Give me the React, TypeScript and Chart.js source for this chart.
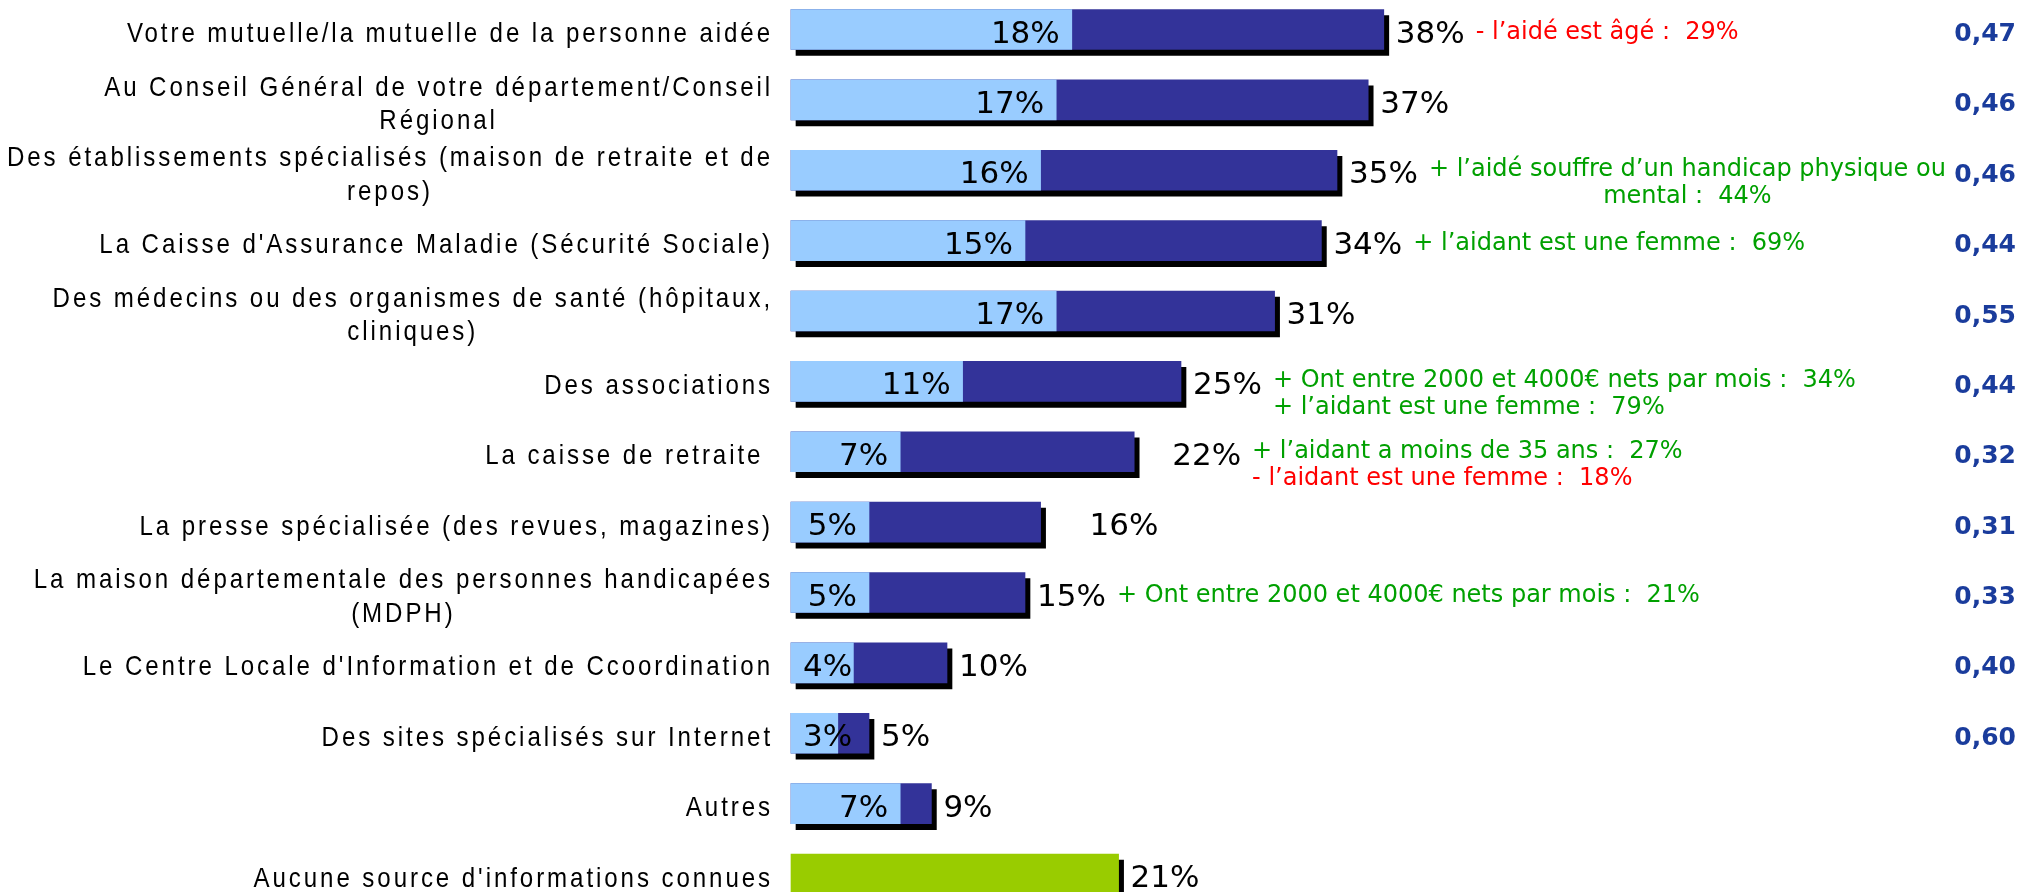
import { useEffect, useRef } from 'react';
import { Chart, registerables } from 'chart.js';

Chart.register(...registerables);

// ---------- data ----------
const categories: (string | string[])[] = [
  'Votre mutuelle/la mutuelle de la personne aidée',
  ['Au Conseil Général de votre département/Conseil', 'Régional'],
  ['Des établissements spécialisés (maison de retraite et de', 'repos)'],
  "La Caisse d'Assurance Maladie (Sécurité Sociale)",
  ['Des médecins ou des organismes de santé (hôpitaux,', 'cliniques)'],
  'Des associations',
  'La caisse de retraite ',
  'La presse spécialisée (des revues, magazines)',
  ['La maison départementale des personnes handicapées', '(MDPH)'],
  "Le Centre Locale d'Information et de Ccoordination",
  'Des sites spécialisés sur Internet',
  'Autres',
  "Aucune source d'informations connues",
];

const enPremier = [18, 17, 16, 15, 17, 11, 7, 5, 5, 4, 3, 7, null];
const auTotal = [38, 37, 35, 34, 31, 25, 22, 16, 15, 10, 5, 9, null];
const aucuneSource = [null, null, null, null, null, null, null, null, null, null, null, null, 21];

const indices = ['0,47', '0,46', '0,46', '0,44', '0,55', '0,44', '0,32', '0,31', '0,33', '0,40', '0,60', '', ''];

// a note is either one line, or a wrapped sentence (array of lines, centred)
const notes: (string | string[])[][] = [
  ['- l’aidé est âgé :  29%'],
  [],
  [['+ l’aidé souffre d’un handicap physique ou', 'mental :  44%']],
  ['+ l’aidant est une femme :  69%'],
  [],
  ['+ Ont entre 2000 et 4000€ nets par mois :  34%', '+ l’aidant est une femme :  79%'],
  ['+ l’aidant a moins de 35 ans :  27%', '- l’aidant est une femme :  18%'],
  [],
  ['+ Ont entre 2000 et 4000€ nets par mois :  21%'],
  [],
  [],
  [],
  [],
];

// ---------- styles ----------
const LIGHT = '#99CCFF';
const DARK = '#333399';
const GREEN = '#99CC00';
const PLUS = '#00A000';
const MINUS = '#FF0000';
const INDEX_COLOR = '#1A3C9C';
const PCT_FONT = '31px "DejaVu Sans"';
const NOTE_FONT = '24px "DejaVu Sans"';
const INDEX_FONT = 'bold 25px "DejaVu Sans"';
const CAT_FONT = '28px "Liberation Sans"';
const CAT_SPACING = 3.4; // tracking, in unscaled font units
const CAT_NARROW = 0.86; // horizontal compression (Arial Narrow look)
const OUTER_GAP = 12;
// the source deck pushed two total labels further out
const outerGapOverride: Record<number, number> = { 6: 38, 7: 49 };

const shadowPlugin = {
  id: 'barShadow',
  beforeDatasetDraw(chart: any, args: any) {
    if (args.index === 0) return;
    const ctx = chart.ctx;
    ctx.save();
    ctx.shadowColor = '#000000';
    ctx.shadowOffsetX = 5;
    ctx.shadowOffsetY = 6;
    ctx.shadowBlur = 0;
  },
  afterDatasetDraw(chart: any, args: any) {
    if (args.index === 0) return;
    chart.ctx.restore();
  },
};

const labelsPlugin = {
  id: 'textLabels',
  afterDatasetsDraw(chart: any) {
    const ctx: CanvasRenderingContext2D = chart.ctx;
    const yScale = chart.scales.y;
    const area = chart.chartArea;
    ctx.save();

    // category labels (compressed font with tracking)
    ctx.font = CAT_FONT;
    (ctx as any).letterSpacing = `${CAT_SPACING}px`;
    ctx.fillStyle = '#000000';
    ctx.textBaseline = 'alphabetic';
    ctx.textAlign = 'left';
    const labelRight = area.left - 18;
    const mw = (s: string) => ctx.measureText(s).width * CAT_NARROW;
    const drawNarrow = (s: string, xLeft: number, base: number) => {
      ctx.save();
      ctx.translate(xLeft, base);
      ctx.scale(CAT_NARROW, 1);
      ctx.fillText(s, 0, 0);
      ctx.restore();
    };
    categories.forEach((cat, i) => {
      const cy = yScale.getPixelForValue(i);
      const lines = Array.isArray(cat) ? cat : [cat];
      const widths = lines.map(mw);
      const blockW = Math.max(...widths);
      const lh = 33.6;
      lines.forEach((line, k) => {
        if (lines.length === 1) {
          drawNarrow(line, labelRight - widths[k], cy + 12.5);
        } else {
          const base = cy + 12.5 + (k - (lines.length - 1) / 2) * lh;
          drawNarrow(line, labelRight - blockW / 2 - widths[k] / 2, base);
        }
      });
    });
    (ctx as any).letterSpacing = '0px';

    const lightMeta = chart.getDatasetMeta(0);
    const darkMeta = chart.getDatasetMeta(1);
    const greenMeta = chart.getDatasetMeta(2);

    // inner labels
    ctx.font = PCT_FONT;
    ctx.fillStyle = '#000000';
    enPremier.forEach((v, i) => {
      if (v == null) return;
      const el = lightMeta.data[i];
      const txt = `${v}%`;
      const w = ctx.measureText(txt).width;
      const xr = Math.max(el.x - 12, el.base + 12 + w);
      ctx.textAlign = 'right';
      ctx.fillText(txt, xr, el.y + 13);
    });

    // outer labels
    const outerEnds: number[] = [];
    categories.forEach((_, i) => {
      const v = auTotal[i] != null ? auTotal[i] : aucuneSource[i];
      const el = auTotal[i] != null ? darkMeta.data[i] : greenMeta.data[i];
      if (v == null || !el) return;
      const txt = `${v}%`;
      ctx.font = PCT_FONT;
      ctx.fillStyle = '#000000';
      ctx.textAlign = 'left';
      const x = el.x + (outerGapOverride[i] ?? OUTER_GAP);
      ctx.fillText(txt, x, el.y + 13);
      outerEnds[i] = x + ctx.measureText(txt).width;
    });

    // notes
    ctx.font = NOTE_FONT;
    notes.forEach((list, i) => {
      if (!list.length) return;
      const cy = yScale.getPixelForValue(i);
      const x0 = outerEnds[i] + 11;
      const rows: { text: string; x: number; align: CanvasTextAlign; color: string }[] = [];
      list.forEach((note) => {
        const lines = Array.isArray(note) ? note : [note];
        const color = lines[0].trim().startsWith('-') ? MINUS : PLUS;
        if (lines.length === 1) {
          rows.push({ text: lines[0], x: x0, align: 'left', color });
        } else {
          const bw = Math.max(...lines.map((l) => ctx.measureText(l).width));
          lines.forEach((l) => rows.push({ text: l, x: x0 + bw / 2, align: 'center', color }));
        }
      });
      const n = rows.length;
      rows.forEach((r, k) => {
        ctx.fillStyle = r.color;
        ctx.textAlign = r.align;
        ctx.fillText(r.text, r.x, cy + 9 - (n - 1) * 3 + k * 27);
      });
    });

    // right-hand indices
    ctx.font = INDEX_FONT;
    ctx.fillStyle = INDEX_COLOR;
    ctx.textAlign = 'right';
    indices.forEach((t, i) => {
      if (!t) return;
      const cy = yScale.getPixelForValue(i);
      ctx.fillText(t, 2016, cy + 11.5);
    });

    ctx.restore();
  },
};

export default function App() {
  const ref = useRef<HTMLCanvasElement>(null);

  useEffect(() => {
    const canvas = ref.current;
    if (!canvas) return;
    const common = {
      barThickness: 40,
      grouped: false,
      clip: false as any,
      borderWidth: 0,
    };
    const chart = new Chart(canvas, {
      type: 'bar',
      data: {
        labels: categories as any,
        datasets: [
          { label: 'En premier', data: enPremier as any, backgroundColor: LIGHT, ...common },
          { label: 'Au total', data: auTotal as any, backgroundColor: DARK, ...common },
          { label: 'Aucune source', data: aucuneSource as any, backgroundColor: GREEN, ...common },
        ],
      },
      options: {
        indexAxis: 'y',
        responsive: false,
        animation: false,
        devicePixelRatio: 1,
        layout: { padding: { left: 791, right: 451, top: 29.5, bottom: 18 } },
        scales: {
          x: { type: 'linear', min: 0, max: 50, display: false },
          y: { type: 'category', offset: false, display: false },
        },
        plugins: {
          legend: { display: false },
          tooltip: { enabled: false },
        },
      } as any,
      plugins: [shadowPlugin, labelsPlugin],
    });
    return () => chart.destroy();
  }, []);

  return (
    <div style={{ position: 'absolute', left: 0, top: 0, width: 2022, height: 892, background: '#ffffff', overflow: 'hidden' }}>
      <canvas ref={ref} width={2022} height={892} style={{ display: 'block', width: 2022, height: 892 }} />
    </div>
  );
}
